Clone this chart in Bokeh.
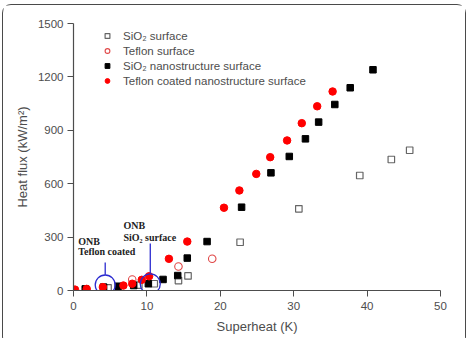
from bokeh.plotting import figure
from bokeh.models import Range1d, Legend, LegendItem, Label
from bokeh.embed import file_html
from bokeh.resources import INLINE

# Superheat (K) / heat flux (kW/m^2) for each surface
sio2_x = [4.7, 8.9, 11.0, 14.3, 15.6, 22.7, 30.7, 39.0, 43.3, 45.8]
sio2_y = [15, 30, 38, 56, 82, 271, 459, 646, 736, 788]

teflon_x = [8.0, 14.3, 18.9]
teflon_y = [62, 135, 178]

sio2_nano_x = [1.6, 4.1, 6.1, 8.2, 10.2, 12.2, 14.2, 15.5, 18.2, 22.9, 26.9, 29.4, 31.6, 33.4, 35.6, 37.7, 40.8]
sio2_nano_y = [9, 19, 24, 28, 38, 62, 84, 182, 275, 468, 661, 753, 852, 946, 1045, 1139, 1240]

teflon_nano_x = [0.2, 1.8, 4.0, 6.8, 8.0, 9.3, 10.3, 13.0, 15.5, 20.5, 22.6, 24.9, 26.8, 29.1, 31.1, 33.2, 35.3]
teflon_nano_y = [5, 9, 19, 28, 38, 60, 80, 178, 275, 465, 562, 655, 749, 843, 940, 1035, 1118]

# Onset of nucleate boiling markers
onb_x = [4.32, 10.46]
onb_y = [31, 37]
onb_line_top = [157, 264]
onb_line_bottom = [88, 95]

GRAY = "#4d4d4d"

p = figure(frame_width=367, frame_height=267,
           min_border_left=70, min_border_top=18, min_border_right=25, min_border_bottom=55,
           x_range=Range1d(0, 50), y_range=Range1d(0, 1500),
           output_backend="svg", toolbar_location=None)
p.styles = {"border": "1.5px solid #4a4a4a", "border-radius": "9px", "margin": "4px 0 0 2px"}

p.grid.visible = False
p.outline_line_color = None
p.background_fill_color = "white"

for ax in (p.xaxis[0], p.yaxis[0]):
    ax.axis_line_color = GRAY
    ax.axis_line_width = 1.2
    ax.major_tick_line_color = GRAY
    ax.minor_tick_line_color = GRAY
    ax.major_tick_out = 6
    ax.major_tick_in = 0
    ax.minor_tick_out = 3
    ax.minor_tick_in = 0
    ax.major_label_text_font = "Liberation Sans"
    ax.major_label_text_font_size = "11.5px"
    ax.major_label_text_color = GRAY
    ax.axis_label_text_font = "Liberation Sans"
    ax.axis_label_text_font_size = "13px"
    ax.axis_label_text_font_style = "normal"
    ax.axis_label_text_color = GRAY

p.xaxis.ticker = [0, 10, 20, 30, 40, 50]
p.xaxis[0].ticker.num_minor_ticks = 2
p.yaxis.ticker = [0, 300, 600, 900, 1200, 1500]
p.yaxis[0].ticker.num_minor_ticks = 2
p.xaxis.axis_label = "Superheat (K)"
p.yaxis.axis_label = "Heat flux (kW/m²)"
p.xaxis.major_label_standoff = 5
p.yaxis.major_label_standoff = 4
p.xaxis.axis_label_standoff = 6
p.yaxis.axis_label_standoff = 5

r1 = p.scatter(sio2_x, sio2_y, marker="square", size=6.5, fill_color=None,
               line_color="#666666", line_width=1.2)
r2 = p.scatter(teflon_x, teflon_y, marker="circle", size=7.5, fill_color=None,
               line_color="#e04848", line_width=1.1)
r3 = p.scatter(sio2_nano_x, sio2_nano_y, marker="square", size=6.5, fill_color="black",
               line_color="black")
r4 = p.scatter(teflon_nano_x, teflon_nano_y, marker="circle", size=7.5, fill_color="red",
               line_color="red")

# ONB circles and pointer lines
p.scatter(onb_x, onb_y, marker="circle", size=20, fill_color=None,
          line_color="#2b2bd0", line_width=1.3)
p.segment(x0=onb_x, y0=onb_line_bottom, x1=onb_x, y1=onb_line_top,
          line_color="#2b2bd0", line_width=1.3)

for txt, x, y in [("ONB", 0.64, 278), ("Teflon coated", 0.64, 219),
                  ("ONB", 6.8, 363), ("SiO\u2082 surface", 6.8, 298)]:
    p.add_layout(Label(x=x, y=y, text=txt, text_font="Liberation Serif",
                       text_font_style="bold", text_font_size="10px",
                       text_color="#222222", text_baseline="middle"))

legend = Legend(items=[
    LegendItem(label="SiO\u2082 surface", renderers=[r1]),
    LegendItem(label="Teflon surface", renderers=[r2]),
    LegendItem(label="SiO\u2082 nanostructure surface", renderers=[r3]),
    LegendItem(label="Teflon coated nanostructure surface", renderers=[r4]),
], location=(28, 202))
legend.padding = 0
legend.margin = 0
legend.spacing = 0
legend.glyph_width = 12
legend.glyph_height = 15
legend.label_height = 15
legend.label_standoff = 10
legend.label_text_font = "Liberation Sans"
legend.label_text_font_size = "11.5px"
legend.label_text_color = GRAY
legend.border_line_color = None
legend.background_fill_alpha = 0
p.add_layout(legend, "center")

open("out.html", "w").write(file_html(p, INLINE))
